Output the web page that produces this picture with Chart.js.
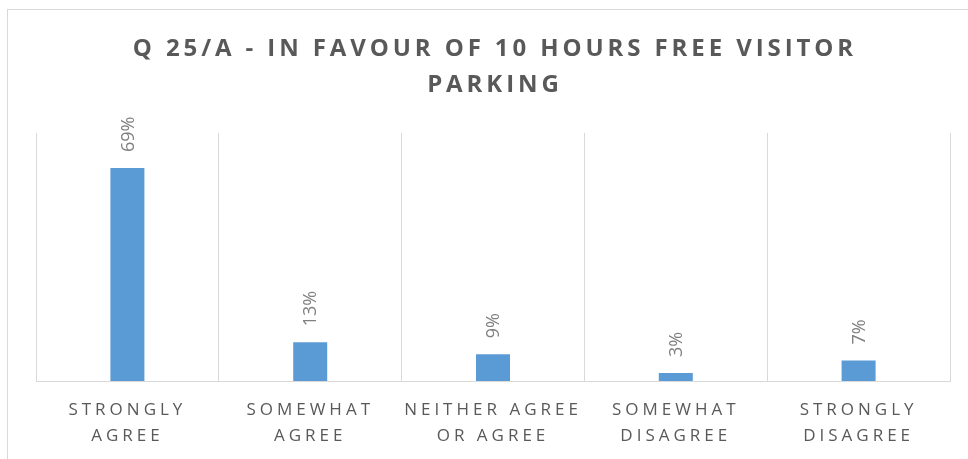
<!DOCTYPE html>
<html>
<head>
<meta charset="utf-8">
<script src="https://cdn.jsdelivr.net/npm/chart.js@4.4.1/dist/chart.umd.min.js"></script>
<style>
  html, body { margin: 0; padding: 0; background: #ffffff; }
  #wrap { position: relative; width: 968px; height: 459px; }
</style>
</head>
<body>
<div id="wrap"><canvas id="c" width="968" height="459"></canvas></div>
<script>
// ---- data ----
const titleLines = ["Q 25/A - IN FAVOUR OF 10 HOURS FREE VISITOR", "PARKING"];
const categories = [
  ["STRONGLY", "AGREE"],
  ["SOMEWHAT", "AGREE"],
  ["NEITHER AGREE", "OR AGREE"],
  ["SOMEWHAT", "DISAGREE"],
  ["STRONGLY", "DISAGREE"]
];
const percentValues = [68.7, 12.5, 8.6, 2.6, 6.6];
const axisMax = 80;

const FONT = "'Open Sans', 'DejaVu Sans', sans-serif";
const TICK_SPACING = '4px';

const framePlugin = {
  id: 'frame',
  beforeLayout(chart) { chart.ctx.letterSpacing = TICK_SPACING; },
  beforeDraw(chart) {
    const ctx = chart.ctx;
    ctx.save();
    ctx.fillStyle = '#ffffff';
    ctx.fillRect(0, 0, chart.width, chart.height);
    ctx.strokeStyle = '#d9d9d9';
    ctx.lineWidth = 1;
    ctx.strokeRect(7.5, 9.5, 1000, 1000);
    ctx.restore();
    ctx.letterSpacing = TICK_SPACING;
  },
  beforeDatasetsDraw(chart) { chart.ctx.letterSpacing = '0px'; },
  afterDatasetsDraw(chart) {
    const ctx = chart.ctx;
    const meta = chart.getDatasetMeta(0);
    ctx.save();
    ctx.letterSpacing = '0px';
    ctx.fillStyle = '#808080';
    ctx.font = "18px " + FONT;
    ctx.textAlign = 'left';
    ctx.textBaseline = 'middle';
    meta.data.forEach((bar, i) => {
      const v = chart.data.datasets[0].data[i];
      ctx.save();
      ctx.translate(bar.x + 1, bar.y - 16);
      ctx.rotate(-Math.PI / 2);
      ctx.fillText(Math.round(v) + '%', 0, 0);
      ctx.restore();
    });
    ctx.restore();
  },
  afterDraw(chart) {
    const ctx = chart.ctx;
    ctx.save();
    ctx.letterSpacing = '3.9px';
    ctx.fillStyle = '#595959';
    ctx.font = "bold 24px " + FONT;
    ctx.textAlign = 'center';
    ctx.textBaseline = 'middle';
    const cx = (chart.chartArea.left + chart.chartArea.right) / 2 + 1.9;
    ctx.fillText(titleLines[0], cx, 49);
    ctx.fillText(titleLines[1], cx, 85);
    ctx.restore();
  }
};

new Chart(document.getElementById('c'), {
  type: 'bar',
  data: {
    labels: categories,
    datasets: [{
      data: percentValues,
      backgroundColor: '#5b9bd5',
      borderWidth: 0,
      barPercentage: 0.186,
      categoryPercentage: 1.0
    }]
  },
  options: {
    responsive: false,
    animation: false,
    events: [],
    layout: { padding: { left: 36, right: 18, top: 133, bottom: 0 } },
    plugins: { legend: { display: false }, title: { display: false }, tooltip: { enabled: false } },
    scales: {
      x: {
        offset: true,
        grid: { display: true, offset: true, color: '#d9d9d9', lineWidth: 1, drawTicks: false },
        border: { display: true, color: '#d9d9d9', width: 1 },
        ticks: {
          color: '#595959',
          font: { family: FONT, size: 17, lineHeight: '26px' },
          padding: 16,
          maxRotation: 0,
          autoSkip: false
        },
        afterFit(scale) { scale.height = 78; }
      },
      y: {
        display: false,
        min: 0,
        max: axisMax
      }
    }
  },
  plugins: [framePlugin]
});
</script>
</body>
</html>
